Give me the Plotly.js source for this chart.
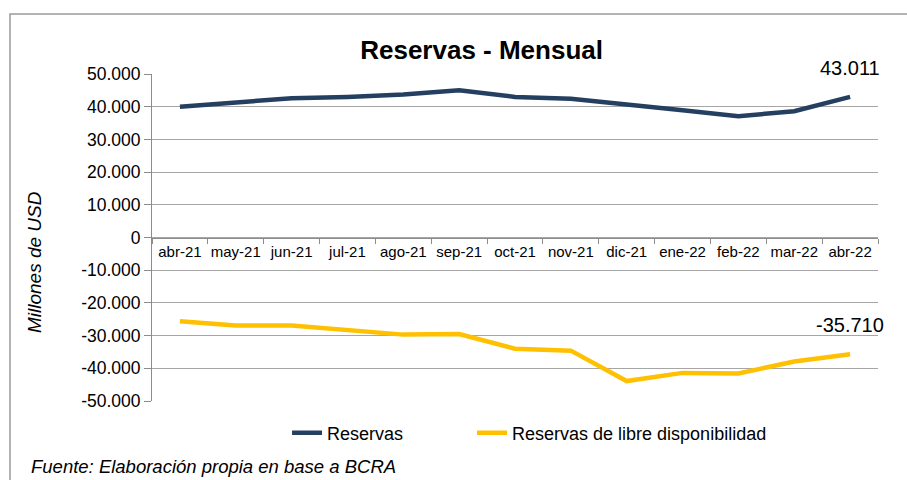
<!DOCTYPE html>
<html>
<head>
<meta charset="utf-8">
<script src="https://cdn.plot.ly/plotly-3.0.1.min.js"></script>
<style>
  html, body { margin: 0; padding: 0; background: #ffffff; }
  #chart { width: 907px; height: 480px; }
</style>
</head>
<body>
<div id="chart"></div>
<script>
// ---- Data ----
const months = ["abr-21", "may-21", "jun-21", "jul-21", "ago-21", "sep-21", "oct-21",
                "nov-21", "dic-21", "ene-22", "feb-22", "mar-22", "abr-22"];
const reservas = [40000, 41200, 42600, 43000, 43700, 45000, 43000,
                  42400, 40800, 38900, 37100, 38600, 43011];
const reservasLibre = [-25600, -26900, -26900, -28400, -29700, -29500, -34000,
                       -34600, -43900, -41400, -41600, -37900, -35710];
const yTickVals = [50000, 40000, 30000, 20000, 10000, 0, -10000, -20000, -30000, -40000, -50000];
const yTickText = ["50.000", "40.000", "30.000", "20.000", "10.000", "0", "-10.000", "-20.000",
                   "-30.000", "-40.000", "-50.000"];
const lastLabelReservas = "43.011";
const lastLabelLibre = "-35.710";

const arial = "'Liberation Sans', Arial, sans-serif";

const traces = [
  {
    x: months, y: reservas, type: "scatter", mode: "lines", name: "Reservas",
    line: { color: "#243F60", width: 4.5 }, legend: "legend"
  },
  {
    x: months, y: reservasLibre, type: "scatter", mode: "lines", name: "Reservas de libre disponibilidad",
    line: { color: "#FFC000", width: 4.5 }, legend: "legend2"
  }
];

const n = months.length;
const legendFont = { family: arial, size: 18, color: "#000000" };
const layout = {
  width: 907, height: 480,
  margin: { l: 152, r: 29, t: 74, b: 79 },
  paper_bgcolor: "#ffffff", plot_bgcolor: "#ffffff",
  separators: ",.",
  font: { family: arial, color: "#000000" },
  title: {
    text: "<b>Reservas - Mensual</b>",
    font: { family: arial, size: 26, color: "#000000" },
    x: 0.531, xanchor: "center", y: 0.896, yanchor: "middle"
  },
  showlegend: true,
  legend: {
    orientation: "h", x: 0.186, xanchor: "left", y: -0.098, yanchor: "middle",
    font: legendFont, itemwidth: 30, bgcolor: "rgba(0,0,0,0)"
  },
  legend2: {
    orientation: "h", x: 0.4408, xanchor: "left", y: -0.098, yanchor: "middle",
    font: legendFont, itemwidth: 30, bgcolor: "rgba(0,0,0,0)"
  },
  xaxis: {
    type: "category",
    range: [-0.5, n - 0.5],
    anchor: "free", position: 0.5,
    showline: true, linecolor: "#8c8c8c", linewidth: 1,
    ticks: "outside", ticklen: 5, tickcolor: "#8c8c8c", tickson: "boundaries",
    showgrid: false, zeroline: false, tickangle: 0,
    tickfont: { family: arial, size: 15, color: "#000000" },
    fixedrange: true
  },
  yaxis: {
    range: [-50000, 50000],
    tickvals: yTickVals, ticktext: yTickText,
    showline: true, linecolor: "#8c8c8c", linewidth: 1,
    ticks: "outside", ticklen: 7, tickcolor: "#8c8c8c",
    showgrid: true, gridcolor: "#a6a6a6", gridwidth: 1,
    zeroline: false,
    tickfont: { family: arial, size: 17.5, color: "#000000" },
    fixedrange: true
  },
  annotations: [
    {
      x: months[n - 1], y: reservas[n - 1], xref: "x", yref: "y",
      text: lastLabelReservas, showarrow: false, yanchor: "bottom", yshift: 16,
      font: { family: arial, size: 20, color: "#000000" }
    },
    {
      x: months[n - 1], y: reservasLibre[n - 1], xref: "x", yref: "y",
      text: lastLabelLibre, showarrow: false, yanchor: "bottom", yshift: 16,
      font: { family: arial, size: 20, color: "#000000" }
    },
    {
      x: -0.1625, y: 0.425, xref: "paper", yref: "paper",
      text: "<i>Millones de USD</i>", showarrow: false, textangle: -90,
      xanchor: "center", yanchor: "middle",
      font: { family: arial, size: 19, color: "#000000" }
    },
    {
      x: -0.169, y: -0.2018, xref: "paper", yref: "paper",
      text: "<i>Fuente: Elaboración propia en base a BCRA</i>", showarrow: false,
      xanchor: "left", yanchor: "middle",
      font: { family: arial, size: 18.5, color: "#000000" }
    }
  ],
  shapes: [
    {
      type: "rect", xref: "paper", yref: "paper",
      x0: -0.1956, x1: 1.06, y0: -0.35, y1: 1.1835,
      line: { color: "#9a9a9a", width: 1.5 }, fillcolor: "rgba(0,0,0,0)", layer: "below"
    }
  ]
};

Plotly.newPlot("chart", traces, layout, { displayModeBar: false, staticPlot: true });
</script>
</body>
</html>
